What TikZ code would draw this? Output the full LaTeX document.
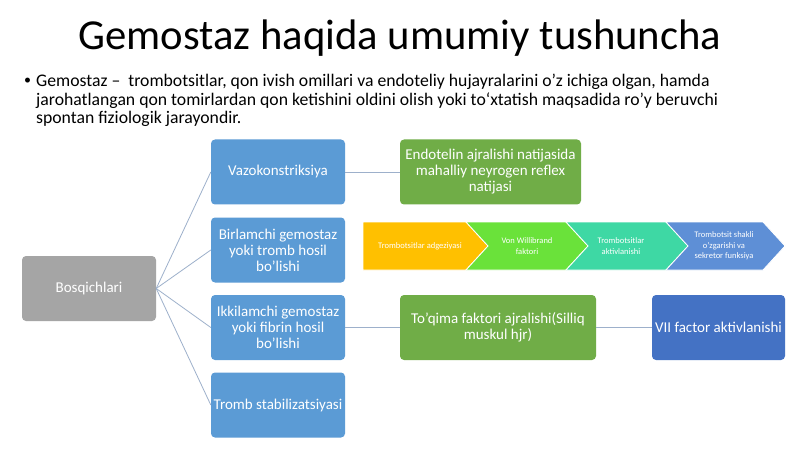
\documentclass[tikz,border=0pt]{standalone}
\usepackage{fontspec}
\setmainfont{Carlito}
\definecolor{boxblue}{HTML}{5B9BD5}
\definecolor{boxgray}{HTML}{A5A5A5}
\definecolor{boxgreen}{HTML}{70AD47}
\definecolor{boxdark}{HTML}{4472C4}
\definecolor{lineclr}{HTML}{9DB0CB}
\definecolor{chevA}{HTML}{FFC000}
\definecolor{chevB}{HTML}{6AE23A}
\definecolor{chevC}{HTML}{3ED8A4}
\definecolor{chevD}{HTML}{5E8FD6}
\begin{document}
\begin{tikzpicture}[x=1pt,y=-1pt,
  box/.style={rounded corners=4pt, draw=none, text=white, align=center,
    font=\fontsize{15}{16}\selectfont, inner sep=1pt, minimum height=65pt},
  link/.style={draw=lineclr, line width=0.8pt},
  chev/.style={draw=white, line width=0.8pt},
  chevtext/.style={text=white, align=center, font=\fontsize{8.5}{10.5}\selectfont, inner sep=0pt}]
\useasboundingbox (0,0) rectangle (800,449);
\fill[white] (0,0) rectangle (800,449);

% title and definition
\node[inner sep=0pt, font=\fontsize{42.7}{50}\selectfont] (title) at (400,38.5) {Gemostaz haqida umumiy tushuncha};
\node[inner sep=0pt, font=\fontsize{14}{14}\selectfont] (bul) at (27.5,81) {•};
\node[anchor=north west, align=left, inner sep=0pt, font=\fontsize{17.7}{18.5}\selectfont] (def) at (36,74)
 {Gemostaz –\ \ trombotsitlar, qon ivish omillari va endoteliy hujayralarini o’z ichiga olgan, hamda\\
  jarohatlangan qon tomirlardan qon ketishini oldini olish yoki to‘xtatish maqsadida ro’y beruvchi\\
  spontan fiziologik jarayondir.};

% hierarchy
\node[box, fill=boxgray, minimum width=134pt] (root) at (89,288.5) {Bosqichlari};
\node[box, fill=boxblue, minimum width=134pt] (vazo) at (278,172) {Vazokonstriksiya};
\node[box, fill=boxblue, minimum width=134pt] (birl) at (278,250) {Birlamchi gemostaz\\yoki tromb hosil\\bo’lishi};
\node[box, fill=boxblue, minimum width=134pt] (ikki) at (278,327.5) {Ikkilamchi gemostaz\\yoki fibrin hosil\\bo’lishi};
\node[box, fill=boxblue, minimum width=134pt] (tromb) at (278,405) {Tromb stabilizatsiyasi};
\node[box, fill=boxgreen, minimum width=181pt] (endo) at (490.5,172) {Endotelin ajralishi natijasida\\mahalliy neyrogen reflex\\natijasi};
\node[box, fill=boxgreen, minimum width=196pt] (toq) at (498,327.5) {To’qima faktori ajralishi(Silliq\\muskul hjr)};
\node[box, fill=boxdark, minimum width=133pt] (vii) at (718.5,327.5) {VII factor aktivlanishi};

\draw[link] (root.east) -- (vazo.west);
\draw[link] (root.east) -- (birl.west);
\draw[link] (root.east) -- (ikki.west);
\draw[link] (root.east) -- (tromb.west);
\draw[link] (vazo.east) -- (endo.west);
\draw[link] (ikki.east) -- (toq.west);
\draw[link] (toq.east) -- (vii.west);

% chevron process
\path[chev, fill=chevA] (363,222) -- (466,222) -- (488,246) -- (466,270) -- (363,270) -- cycle;
\path[chev, fill=chevB] (466,222) -- (566,222) -- (588,246) -- (566,270) -- (466,270) -- (488,246) -- cycle;
\path[chev, fill=chevC] (566,222) -- (666,222) -- (688,246) -- (666,270) -- (566,270) -- (588,246) -- cycle;
\path[chev, fill=chevD] (666,222) -- (763,222) -- (785,246) -- (763,270) -- (666,270) -- (688,246) -- cycle;
\node[chevtext] (c1) at (420,246) {Trombotsitlar adgeziyasi};
\node[chevtext] (c2) at (527,246) {Von Willibrand\\faktori};
\node[chevtext] (c3) at (621,246) {Trombotsitlar\\aktivlanishi};
\node[chevtext] (c4) at (724,246) {Trombotsit shakli\\o’zgarishi va\\sekretor funksiya};
\end{tikzpicture}
\end{document}
